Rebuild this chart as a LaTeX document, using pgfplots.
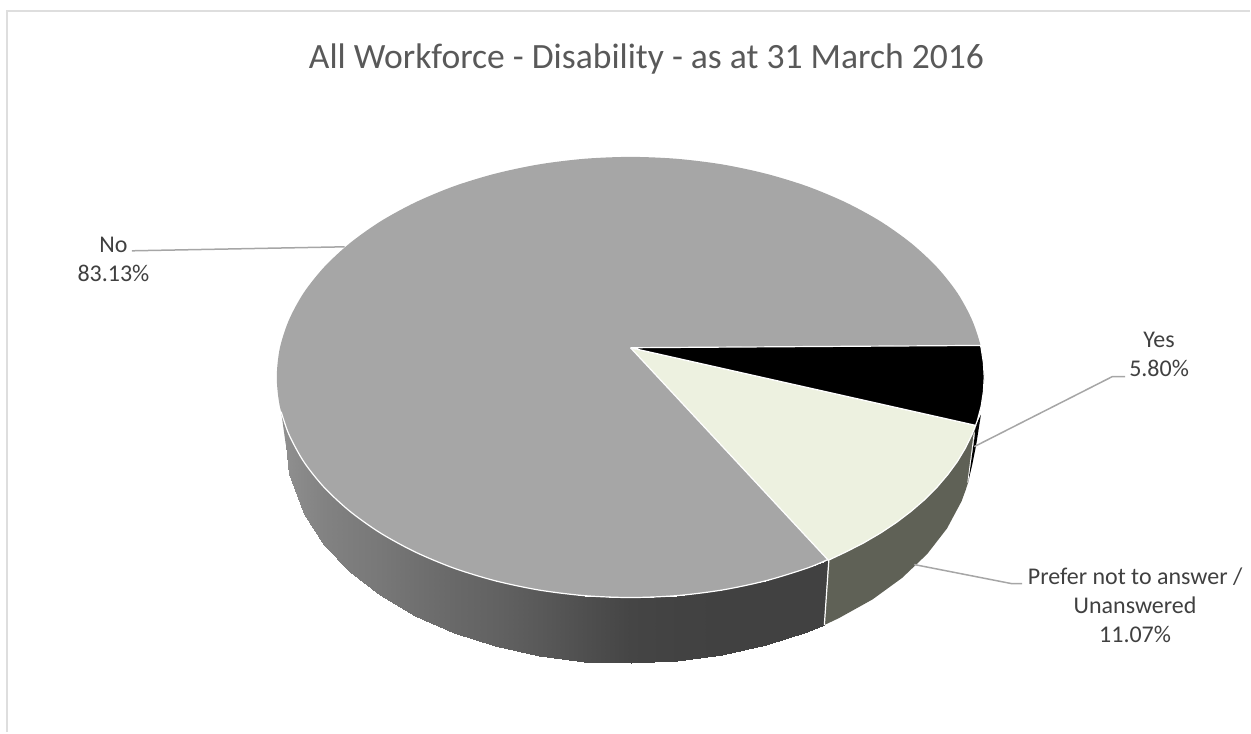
\documentclass[border=0pt]{standalone}
\usepackage{fontspec}
\setmainfont{Carlito}
\usepackage{pgfplots}
\pgfplotsset{compat=1.18}
\definecolor{noslice}{HTML}{A6A6A6}
\definecolor{nowallend}{HTML}{414141}
\definecolor{preferslice}{HTML}{EDF1E0}
\definecolor{preferwall}{HTML}{5F6156}
\definecolor{leader}{HTML}{A6A6A6}
\definecolor{frameline}{HTML}{DEDEDE}
\definecolor{wallstart}{HTML}{8F8F8F}
\definecolor{titletext}{HTML}{595959}
\definecolor{labeltext}{HTML}{404040}

\begin{document}
\begin{tikzpicture}
\begin{axis}[
    scale only axis, width=1251pt, height=733pt,
    xmin=0, xmax=1251, ymin=0, ymax=733, y dir=reverse,
    hide axis, clip=false,
    colormap={wallgray}{gray(0cm)=(0); gray(1cm)=(1)},
    point meta min=0, point meta max=1,
]
% chart frame
\addplot[frameline, line width=2pt] coordinates {(7,733) (7,11) (1251,11)};

% side wall of the No slice, grey follows x
\addplot[fill=wallstart, draw=none] coordinates {(281.4,412) (286,445) (286,426.9)};
\addplot[surf, shader=interp, mesh/cols=2, point meta=explicit, draw=none]
    table[x=x, y=y, meta=c] {
x y c
286 426.9 .56
286 445 .56

289.1 434.6 .555
289.1 474.3 .555

303.9 461.9 .535
303.9 514.7 .535

324.4 487.75 .51
324.4 545.5 .51

350.2 511.7 .49
350.2 572.4 .49

380.7 533.4 .47
380.7 595.9 .47

415.5 552.4 .44
415.5 616.2 .44

454 568.5 .41
454 633.2 .41

495.5 581.2 .385
495.5 646.6 .385

539.4 590.5 .35
539.4 656.3 .35

584.8 596.1 .31
584.8 662.1 .31

631 598 .27
631 664 .27

677.2 596.1 .26
677.2 661.9 .26

722.6 590.5 .255
722.6 655.9 .255

766.5 581.2 .255
766.5 646 .255

808 568.5 .255
808 632.4 .255

825 562.3 .255
825 625.5 .255
};
\addplot[fill=nowallend, draw=none] coordinates {(825,562.3) (829,560.7) (825,625.5)};

% side wall of the Prefer not to answer slice
\addplot[fill=preferwall, draw=none] coordinates {
 (829,560.7) (846.5,552.4) (864.4,543.3) (881.3,533.4) (897.1,522.9) (911.8,511.7)
 (925.4,500) (937.6,487.75) (948.5,475) (958.1,461.9) (966.2,448.4) (972.9,434.6)
 (976.4,425.7) (968.8,483) (966.4,490.5) (962.3,501.7) (947.8,528.8) (927.9,554.5)
 (902.9,578.3) (873.2,599.9) (839.4,618.7) (825,625.5)};
% side wall of the Yes slice
\addplot[fill=black, draw=none] coordinates {(981.7,415) (976.4,425.7) (975,440) (968.8,483) (973,465) (977,445)};

% top: No slice as the whole ellipse
\addplot[fill=noslice, draw=none, smooth] coordinates {
 (985,377.5) (982,348.7) (972.9,320.4) (958.1,293.1) (937.6,267.3) (911.8,243.3)
 (881.3,221.6) (846.5,202.6) (808,186.5) (766.5,173.8) (722.6,164.5) (677.2,158.9)
 (631,157) (584.8,158.9) (539.4,164.5) (495.5,173.8) (454,186.5) (415.5,202.6)
 (380.7,221.6) (350.2,243.3) (324.4,267.3) (303.9,293.1) (289.1,320.4) (280,348.7)
 (277,377.5) (280,406.3) (289.1,434.6) (303.9,461.9) (324.4,487.75) (350.2,511.7)
 (380.7,533.4) (415.5,552.4) (454,568.5) (495.5,581.2) (539.4,590.5) (584.8,596.1)
 (631,598) (677.2,596.1) (722.6,590.5) (766.5,581.2) (808,568.5) (846.5,552.4)
 (881.3,533.4) (911.8,511.7) (937.6,487.75) (958.1,461.9) (972.9,434.6) (982,406.3)
 (985,377.5)};
% white edge between the top and the wall
\addplot[white, line width=1.2pt, smooth] coordinates {
 (281.4,412) (289.1,434.6) (303.9,461.9) (324.4,487.75) (350.2,511.7)
 (380.7,533.4) (415.5,552.4) (454,568.5) (495.5,581.2) (539.4,590.5) (584.8,596.1)
 (631,598) (677.2,596.1) (722.6,590.5) (766.5,581.2) (808,568.5) (829,559.7)};

% top: Prefer not to answer slice
\addplot[fill=preferslice, draw=white, line width=1.2pt] coordinates {
 (631,348) (976.4,425.7) (972.9,434.6) (966.2,448.4) (958.1,461.9) (948.5,475)
 (937.6,487.75) (925.4,500) (911.8,511.7) (897.1,522.9) (881.3,533.4) (864.4,543.3)
 (846.5,552.4) (829,560.7) (631,348)};
% top: Yes slice
\addplot[fill=black, draw=white, line width=1.2pt] coordinates {
 (631,348) (981.3,345.7) (982,348.7) (984.2,363.1) (985,377.5) (984.2,391.9)
 (982,406.3) (978.2,420.5) (976.4,425.7) (631,348)};

% divider between the two front walls
\addplot[white, line width=1.2pt] coordinates {(829.5,560.7) (825,625.5)};
\addplot[white, line width=.8pt] coordinates {(975,433) (968.5,483)};

% leader lines
\addplot[leader, line width=1.5pt] coordinates {(132,251) (345,247)};
\addplot[leader, line width=1.5pt] coordinates {(1126,377) (1113,377) (975,447)};
\addplot[leader, line width=1.5pt] coordinates {(1023,584) (1012,584) (915,565)};

% labels
\node[font=\fontsize{35.6}{42}\selectfont, text=titletext] at (axis cs:647,59) {All Workforce - Disability - as at 31 March 2016};
\node[font=\fontsize{24}{29}\selectfont, text=labeltext, align=center] at (axis cs:113.5,260) {No\\83.13\%};
\node[font=\fontsize{24}{29}\selectfont, text=labeltext, align=center] at (axis cs:1160,355) {Yes\\5.80\%};
\node[font=\fontsize{24}{29}\selectfont, text=labeltext, align=center] at (axis cs:1136,606) {Prefer not to answer /\\Unanswered\\11.07\%};
\end{axis}
\path[use as bounding box] (0,0) rectangle (1251pt,733pt);
\end{tikzpicture}
\end{document}
